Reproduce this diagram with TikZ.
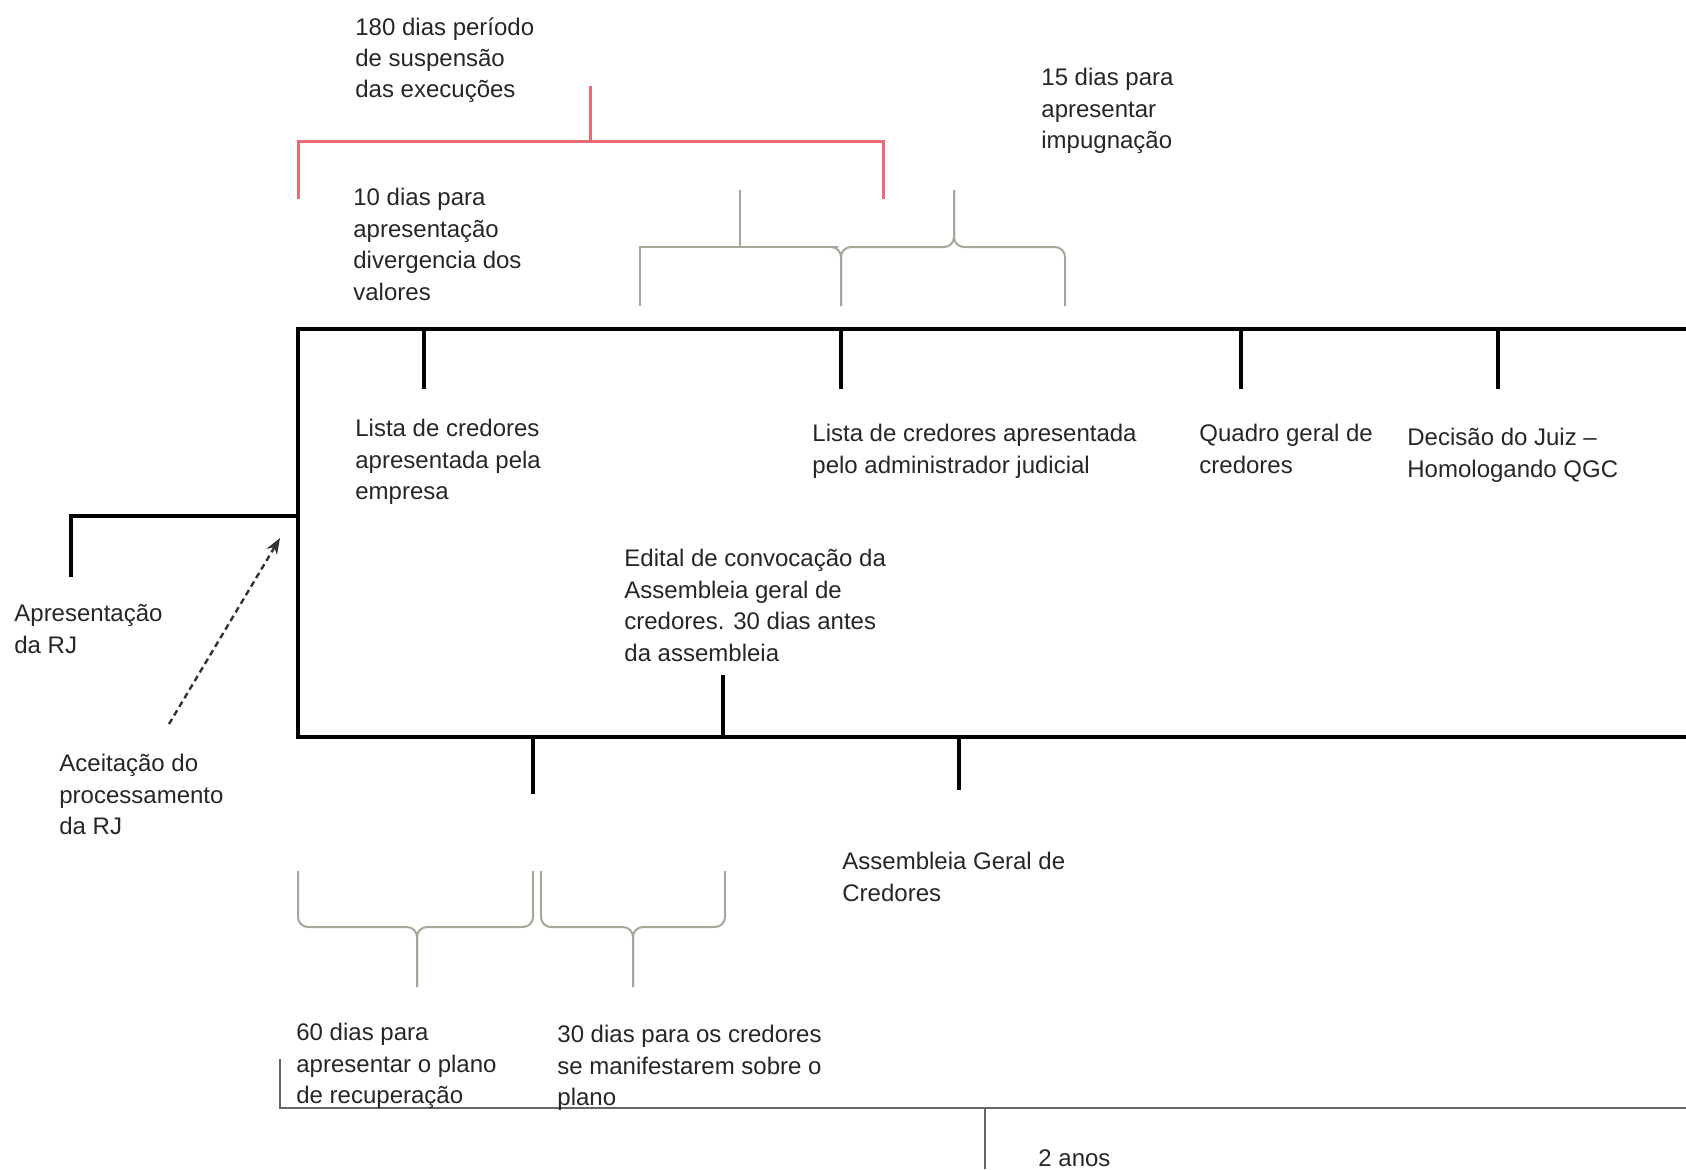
\documentclass[tikz,border=0pt]{standalone}
\usepackage{fontspec}
\setmainfont{Liberation Sans}
\usetikzlibrary{arrows.meta}
\definecolor{bracered}{RGB}{232,108,118}
\definecolor{bracegrey}{RGB}{165,168,150}
\begin{document}
\begin{tikzpicture}
  [x=0.5pt,y=-0.5pt,every node/.style={anchor=north west,inner sep=0pt,align=left,font=\fontsize{12}{15.7}\selectfont,text=black!85}]
  \tikzstyle{axis} = [line width=2pt,black]
  \tikzstyle{tick} = [line width=1.8pt,black]
  \tikzstyle{redbrk} = [line width=1.5pt,bracered]
  \tikzstyle{brace} = [line width=1pt,bracegrey,rounded corners=5]
  \tikzstyle{thin} = [line width=1.2pt,black!60]
  \useasboundingbox (0,0) rectangle (1686,1169);
  % timeline corners
  \coordinate (t0) at (298,329);
  \coordinate (t1) at (1686,329);
  \coordinate (b0) at (298,737);
  \coordinate (b1) at (1686,737);
  \coordinate (rj) at (298,516);
  \coordinate (ap) at (71,516);
  \coordinate (acc) at (280,538);
  \coordinate (acs) at (169,724);
  \draw[axis] (t1) -- (t0) -- (b0) -- (b1);
  \draw[axis] (rj) -- (ap) -- ++(0,61);
  \draw[line width=1.2pt,black!80,densely dashed,-{Stealth[length=8pt,width=6pt]}] (acs) -- (acc);
  % ticks
  \foreach \x in {424,841,1241,1498}
    \draw[tick] (\x,329) -- (\x,389);
  \draw[tick] (723,737) -- (723,675);
  \foreach \x/\y in {533/794,959/790}
    \draw[tick] (\x,737) -- (\x,\y);
  % 180 dias
  \draw[redbrk] (298,199) |- (883,141) -- (883,199);
  \draw[redbrk] (590,141) -- (590,86);
  % chaves
  \draw[brace,sharp corners] (640,306) |- (838,247);
  \draw[brace,sharp corners] (740,247) -- (740,190);
  \draw[brace] (836,247) -- (841,247) -- (841,306);
  \foreach \xa/\xm/\xb in {841/954/1065} {
    \draw[brace] (\xa,306) -- (\xa,247) -- (\xm,247) -- (\xm,190);
    \draw[brace] (\xm,190) -- (\xm,247) -- (\xb,247) -- (\xb,306);
  }
  \foreach \xa/\xm/\xb in {298/417/533,541/633/725} {
    \draw[brace] (\xa,871) -- (\xa,927) -- (\xm,927) -- (\xm,987);
    \draw[brace] (\xm,987) -- (\xm,927) -- (\xb,927) -- (\xb,871);
  }
  % 2 anos
  \coordinate (p0) at (280,1059);
  \coordinate (p1) at (280,1108);
  \coordinate (p2) at (1686,1108);
  \coordinate (p3) at (985,1108);
  \coordinate (p4) at (985,1169);
  \draw[thin] (p0) -- (p1) -- (p2);
  \draw[thin] (p3) -- (p4);
  % textos
  \node (susp) at (355,17) {180 dias período\\de suspensão\\das execuções};
  \node (impug) at (1041,68) {15 dias para\\apresentar\\impugnação};
  \node (diverg) at (353,188) {10 dias para\\apresentação\\divergencia dos\\valores};
  \node (listaemp) at (355,419) {Lista de credores\\apresentada pela\\empresa};
  \node (listaadm) at (812,424) {Lista de credores apresentada\\pelo administrador judicial};
  \node (quadro) at (1199,424) {Quadro geral de\\credores};
  \node (decisao) at (1407,428) {Decisão do Juiz –\\Homologando QGC};
  \node (edital) at (624,549) {Edital de convocação da\\Assembleia geral de\\credores. 30 dias antes\\da assembleia};
  \node (apres) at (14,604) {Apresentação\\da RJ};
  \node (aceite) at (59,754) {Aceitação do\\processamento\\da RJ};
  \node (assemb) at (842,852) {Assembleia Geral de\\Credores};
  \node (sessenta) at (296,1023) {60 dias para\\apresentar o plano\\de recuperação};
  \node (trinta) at (557,1025) {30 dias para os credores\\se manifestarem sobre o\\plano};
  \node (anos) at (1038,1149) {2 anos};
\end{tikzpicture}
\end{document}
